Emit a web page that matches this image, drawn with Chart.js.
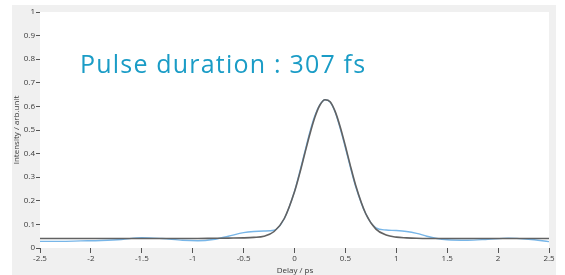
<!DOCTYPE html>
<html>
<head>
<meta charset="utf-8">
<script src="https://cdn.jsdelivr.net/npm/chart.js@4"></script>
<style>
html,body{margin:0;padding:0;background:#fff;}
#wrap{width:565px;height:275px;position:relative;}
</style>
</head>
<body>
<div id="wrap"><canvas id="c" width="565" height="275"></canvas></div>
<script>
const delays = [-2.5,-2.3,-2.1,-1.9,-1.7,-1.5,-1.3,-1.1,-0.95,-0.8,-0.65,-0.5,-0.4,-0.3,-0.2,-0.1,0,0.05,0.1,0.15,0.2,0.25,0.3,0.35,0.4,0.45,0.5,0.55,0.6,0.7,0.8,0.9,1.0,1.1,1.2,1.3,1.4,1.5,1.7,1.9,2.1,2.3,2.5];
const fitValues = [0.04,0.04,0.04,0.04,0.04,0.04,0.04,0.04,0.04,0.041,0.042,0.043,0.045,0.05,0.07,0.125,0.238,0.314,0.398,0.481,0.554,0.606,0.628,0.62,0.578,0.512,0.432,0.347,0.267,0.145,0.08,0.055,0.046,0.043,0.041,0.04,0.04,0.04,0.04,0.04,0.04,0.04,0.04];
const measuredValues = [0.028,0.028,0.03,0.032,0.036,0.044,0.04,0.033,0.031,0.036,0.05,0.065,0.07,0.072,0.075,0.125,0.24,0.32,0.405,0.49,0.56,0.607,0.628,0.618,0.575,0.505,0.425,0.34,0.262,0.145,0.085,0.076,0.074,0.07,0.062,0.05,0.04,0.035,0.033,0.037,0.042,0.037,0.027];
const xTickStep = 0.5;
const yTickStep = 0.1;
const titleText = "Pulse duration : 307 fs";
const xTitle = "Delay / ps";
const yTitle = "Intensity / arb.unit";

const toPts = (xs, ys) => xs.map((x, i) => ({x: x, y: ys[i]}));

const bgPlugin = {
  id: 'bg',
  beforeDraw(chart) {
    const ctx = chart.ctx;
    const a = chart.chartArea;
    ctx.save();
    ctx.fillStyle = '#ffffff';
    ctx.fillRect(0, 0, chart.width, chart.height);
    ctx.fillStyle = '#f0f0f0';
    ctx.fillRect(12, 5, 544, 270);
    ctx.fillStyle = '#ffffff';
    ctx.fillRect(a.left, a.top, a.right - a.left, a.bottom - a.top);
    ctx.restore();
  },
  afterDraw(chart) {
    const ctx = chart.ctx;
    ctx.save();
    ctx.fillStyle = '#1a9cc6';
    ctx.font = '25px "Open Sans"';
    try { ctx.letterSpacing = '1.2px'; } catch (e) {}
    ctx.textBaseline = 'alphabetic';
    ctx.textAlign = 'left';
    ctx.fillText(titleText, 80, 73, 288);
    try { ctx.letterSpacing = '0px'; } catch (e) {}
    ctx.fillStyle = '#3a3a3a';
    ctx.font = '8px "Open Sans"';
    ctx.textAlign = 'center';
    ctx.fillText(xTitle, 295, 273);
    ctx.translate(19, 130);
    ctx.rotate(-Math.PI / 2);
    ctx.fillText(yTitle, 0, 0);
    ctx.restore();
  }
};

new Chart(document.getElementById('c'), {
  type: 'line',
  data: {
    datasets: [
      {label: 'fit', data: toPts(delays, fitValues), borderColor: '#626262', borderWidth: 1.6, pointRadius: 0, cubicInterpolationMode: 'monotone', fill: false},
      {label: 'measured', data: toPts(delays, measuredValues), borderColor: '#78b6e8', borderWidth: 1.4, pointRadius: 0, cubicInterpolationMode: 'monotone', fill: false}
    ]
  },
  options: {
    responsive: false,
    animation: false,
    layout: {padding: {left: 0, top: 12, right: 16, bottom: 0}},
    plugins: {legend: {display: false}, tooltip: {enabled: false}},
    scales: {
      x: {
        type: 'linear', min: -2.5, max: 2.5,
        ticks: {stepSize: xTickStep, color: '#3a3a3a', font: {family: 'Open Sans', size: 8}, padding: 1,
          callback: v => String(parseFloat(v.toFixed(1)))},
        grid: {drawOnChartArea: false, drawTicks: true, tickLength: 5, color: '#555'},
        border: {display: false},
        afterFit: s => { s.height = 27; }
      },
      y: {
        type: 'linear', min: 0, max: 1,
        ticks: {stepSize: yTickStep, color: '#3a3a3a', font: {family: 'Open Sans', size: 8}, padding: 1,
          callback: v => String(parseFloat(v.toFixed(1)))},
        grid: {drawOnChartArea: false, drawTicks: true, tickLength: 4, color: '#555'},
        border: {display: false},
        afterFit: s => { s.width = 40; }
      }
    }
  },
  plugins: [bgPlugin]
});
</script>
</body>
</html>
